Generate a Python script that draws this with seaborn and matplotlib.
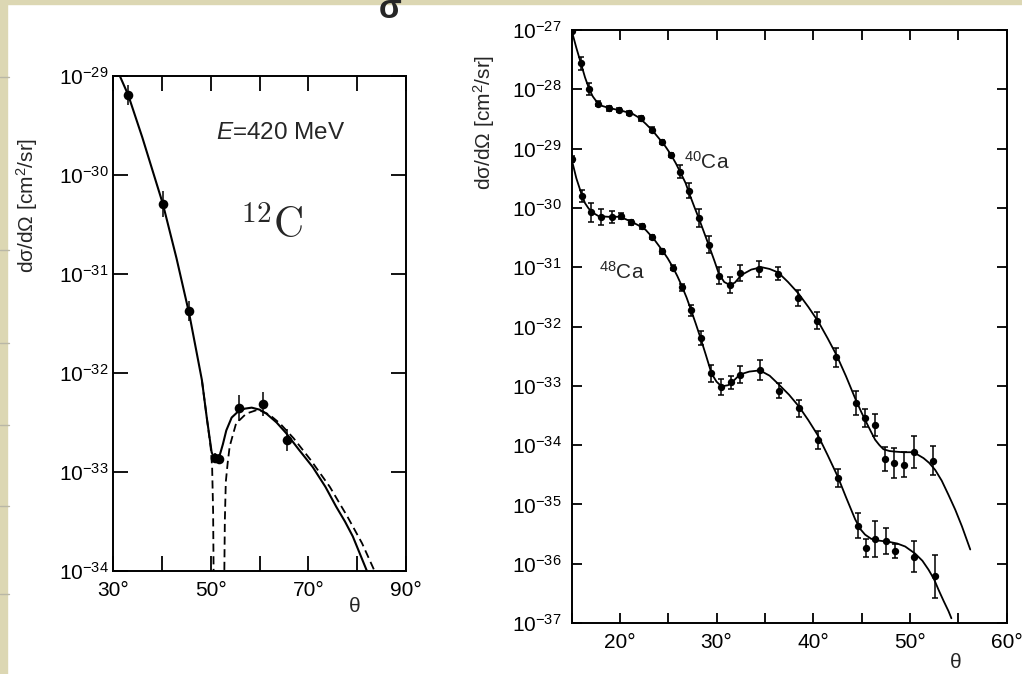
import numpy as np
import pandas as pd
import seaborn as sns
import matplotlib.pyplot as plt
from matplotlib.patches import Rectangle
from matplotlib.lines import Line2D
from matplotlib.ticker import NullLocator

# ---- left panel: 12C, E = 420 MeV ----
c12_theta = [33.1, 40.2, 45.6, 50.9, 51.7, 55.9, 60.8, 65.6]
c12_xs = [6.4e-30, 5.1e-31, 4.2e-32, 1.38e-33, 1.35e-33, 4.4e-33, 4.9e-33, 2.1e-33]
c12_err = [0.10, 0.13, 0.10, 0.05, 0.05, 0.13, 0.12, 0.11]  # half width, decades

# solid fit (log10 of cross section)
c12_fit_theta = [31.4, 33.1, 36.0, 40.2, 43.0, 45.6, 47.0, 48.2, 49.2, 50.2, 50.8,
                 51.2, 51.8, 52.5, 53.2, 54.3, 55.6, 57.0, 58.4, 60.0, 61.4, 63.5,
                 65.5, 68.0, 70.9, 73.5, 75.7, 77.5, 79.1, 82.0]
c12_fit_log = [-29.0, -29.19, -29.62, -30.29, -30.84, -31.40, -31.76, -32.07, -32.45,
               -32.80, -32.87, -32.89, -32.84, -32.72, -32.58, -32.45, -32.39, -32.36,
               -32.35, -32.37, -32.41, -32.50, -32.61, -32.77, -32.95, -33.15, -33.35,
               -33.50, -33.65, -34.0]

# dashed fit, two branches around the diffraction zero
c12_dash_seg = [0] * 7 + [1] * 18
c12_dash_theta = [48.2, 49.2, 50.0, 50.3, 50.5, 50.6, 50.7,
                  52.7, 52.8, 52.9, 53.1, 53.5, 53.9, 55.2, 57.3, 59.7, 62.0, 64.2,
                  67.0, 70.5, 74.4, 78.0, 81.0, 83.2, 84.0]
c12_dash_log = [-32.07, -32.45, -32.75, -32.95, -33.4, -34.0, -34.5,
                -34.5, -34.0, -33.5, -33.1, -32.9, -32.74, -32.51, -32.41, -32.37,
                -32.42, -32.51, -32.66, -32.88, -33.15, -33.45, -33.72, -33.96, -34.05]

# ---- right panel: 40Ca and 48Ca ----
ca40_theta = [15.0, 15.97, 16.84, 17.74, 18.85, 19.9, 20.94, 22.15, 23.3, 24.41, 25.28,
              26.22, 27.12, 28.16, 29.2, 30.3, 31.4, 32.4, 34.4, 36.4, 38.4, 40.4, 42.4,
              44.4, 45.4, 46.4, 47.4, 48.4, 49.4, 50.4, 52.4]
ca40_log = [-27.01, -27.56, -28.0, -28.24, -28.32, -28.35, -28.40, -28.49, -28.68, -28.89,
            -29.11, -29.39, -29.71, -30.17, -30.62, -31.14, -31.30, -31.10, -31.03, -31.11,
            -31.52, -31.90, -32.52, -33.29, -33.54, -33.66, -34.24, -34.30, -34.33, -34.12,
            -34.26]
ca40_err = [0.03, 0.11, 0.10, 0.04, 0.04, 0.04, 0.04, 0.04, 0.04, 0.04, 0.04,
            0.11, 0.13, 0.15, 0.14, 0.14, 0.13, 0.14, 0.13, 0.11, 0.14, 0.14, 0.16,
            0.20, 0.15, 0.18, 0.20, 0.25, 0.21, 0.27, 0.24]

ca48_theta = [15.0, 16.08, 17.05, 18.09, 19.2, 20.07, 21.11, 22.26, 23.37, 24.41, 25.52,
              26.42, 27.36, 28.4, 29.41, 30.45, 31.49, 32.42, 34.49, 36.46, 38.53, 40.54,
              42.54, 44.61, 45.44, 46.41, 47.51, 48.48, 50.48, 52.56]
ca48_log = [-29.17, -29.80, -30.07, -30.15, -30.16, -30.14, -30.24, -30.31, -30.49, -30.73,
            -31.01, -31.34, -31.73, -32.19, -32.79, -33.02, -32.94, -32.81, -32.74, -33.08,
            -33.38, -33.92, -34.56, -35.36, -35.74, -35.58, -35.61, -35.79, -35.88, -36.21]
ca48_err = [0.05, 0.10, 0.16, 0.13, 0.10, 0.05, 0.04, 0.04, 0.04, 0.04, 0.04,
            0.06, 0.10, 0.12, 0.14, 0.14, 0.11, 0.15, 0.17, 0.12, 0.14, 0.15,
            0.15, 0.21, 0.15, 0.30, 0.22, 0.12, 0.26, 0.36]

ca40_fit_theta = [15.0, 15.5, 15.97, 16.4, 16.84, 17.2, 17.47, 17.8, 18.16, 19.0, 19.9,
                  20.6, 21.28, 22.0, 22.67, 23.4, 24.06, 24.7, 25.28, 25.8, 26.32, 26.8,
                  27.19, 27.7, 28.23, 28.75, 29.27, 29.8, 30.24, 30.8, 31.38, 31.9, 32.59,
                  33.6, 34.66, 35.5, 36.39, 37.4, 38.46, 39.5, 40.54, 41.5, 42.44, 43.4,
                  44.34, 45.0, 45.54, 46.0, 46.41, 46.85, 47.27, 47.9, 48.48, 49.3, 50.2,
                  50.8, 51.42, 52.0, 52.63, 53.3, 54.0, 54.7, 55.39, 56.25]
ca40_fit_log = [-27.0, -27.30, -27.56, -27.80, -28.0, -28.12, -28.18, -28.24, -28.28,
                -28.32, -28.35, -28.38, -28.41, -28.48, -28.58, -28.70, -28.83, -28.96,
                -29.10, -29.25, -29.42, -29.58, -29.76, -29.98, -30.20, -30.43, -30.66,
                -30.90, -31.11, -31.25, -31.30, -31.26, -31.13, -31.04, -31.00, -31.03,
                -31.09, -31.25, -31.44, -31.67, -31.92, -32.20, -32.49, -32.84, -33.21,
                -33.45, -33.63, -33.78, -33.91, -34.00, -34.07, -34.10, -34.11, -34.12,
                -34.12, -34.16, -34.22, -34.30, -34.42, -34.60, -34.84, -35.09, -35.37,
                -35.76]

ca48_fit_theta = [15.0, 15.5, 16.08, 16.4, 16.77, 17.2, 17.81, 18.8, 19.9, 20.6, 21.28,
                  22.0, 22.67, 23.5, 24.41, 24.95, 25.45, 25.95, 26.42, 26.9, 27.36, 27.85,
                  28.3, 28.9, 29.48, 30.0, 30.52, 31.2, 31.8, 32.42, 33.4, 34.49, 35.5,
                  36.46, 37.5, 38.53, 39.5, 40.54, 41.5, 42.54, 43.4, 44.34, 44.9, 45.37,
                  46.0, 46.75, 47.79, 48.7, 49.52, 50.55, 51.3, 51.93, 52.5, 52.97, 53.5,
                  54.0, 54.3]
ca48_fit_log = [-29.17, -29.50, -29.79, -29.92, -30.01, -30.08, -30.14, -30.15, -30.15,
                -30.19, -30.24, -30.30, -30.37, -30.52, -30.72, -30.85, -30.99, -31.15,
                -31.32, -31.51, -31.72, -31.95, -32.17, -32.48, -32.79, -32.93, -33.01,
                -32.99, -32.91, -32.81, -32.76, -32.74, -32.83, -32.98, -33.15, -33.35,
                -33.58, -33.85, -34.17, -34.53, -34.88, -35.25, -35.42, -35.51, -35.58,
                -35.61, -35.63, -35.66, -35.71, -35.83, -35.95, -36.10, -36.26, -36.44,
                -36.63, -36.80, -36.92]

left_yticks = [-34, -33, -32, -31, -30, -29]
right_yticks = [-37, -36, -35, -34, -33, -32, -31, -30, -29, -28, -27]
left_xticks = [30, 40, 50, 60, 70, 80, 90]
left_xlabels = ['30°', '', '50°', '', '70°', '', '90°']
right_xticks = [15, 20, 25, 30, 35, 40, 45, 50, 55, 60]
right_xlabels = ['', '20°', '', '30°', '', '40°', '', '50°', '', '60°']
ylabel = 'dσ/dΩ [cm$^2$/sr]'

sns.set_theme(style='ticks')
plt.rcParams['font.family'] = ['Liberation Sans', 'DejaVu Sans']
plt.rcParams['mathtext.fontset'] = 'custom'
plt.rcParams['mathtext.rm'] = 'Liberation Sans'
plt.rcParams['mathtext.it'] = 'Liberation Sans:italic'
plt.rcParams['mathtext.bf'] = 'Liberation Sans:bold'
plt.rcParams['axes.linewidth'] = 1.4


def draw_errors(ax, theta, xs, dex, cap):
    xs = np.asarray(xs)
    d = np.asarray(dex)
    lo = xs - xs * 10.0 ** (-d)
    hi = xs * 10.0 ** d - xs
    ax.errorbar(theta, xs, yerr=[lo, hi], fmt='none', ecolor='black',
                elinewidth=1.1, capsize=cap, capthick=1.1, zorder=2)


def style_axes(ax, xlim, xticks, xlabels, ylim_exp, yticks, ticklen, ypad, xpad):
    ax.set_xlim(*xlim)
    ax.set_ylim(10.0 ** ylim_exp[0], 10.0 ** ylim_exp[1])
    ax.set_xticks(xticks)
    ax.set_xticklabels(xlabels)
    ax.set_yticks([10.0 ** e for e in yticks])
    ax.set_yticklabels([r'$10^{%d}$' % e for e in yticks])
    ax.yaxis.set_minor_locator(NullLocator())
    ax.tick_params(which='major', direction='in', top=True, right=True,
                   length=ticklen, width=1.3, labelsize=15, colors='black')
    ax.tick_params(axis='y', pad=ypad)
    ax.tick_params(axis='x', pad=xpad)
    for s in ax.spines.values():
        s.set_color('black')
    ax.set_xlabel('')
    ax.set_ylabel('')


fig = plt.figure(figsize=(10.22, 6.74), dpi=100)
fig.patch.set_facecolor('white')
beige = '#dcd7b3'
fig.patches.append(Rectangle((0, 1 - 4 / 674), 1, 4 / 674, transform=fig.transFigure,
                             color=beige, zorder=0))
fig.patches.append(Rectangle((0, 0), 7 / 1022, 1, transform=fig.transFigure,
                             color=beige, zorder=0))
# faint ruled marks on the page edge
for yy in [77, 250, 343, 425, 506, 594]:
    fig.lines.append(Line2D([0, 9 / 1022], [1 - yy / 674] * 2, transform=fig.transFigure,
                            color='#b9b7a6', lw=1.0))

# left panel
ax1 = fig.add_axes([113 / 1022, 1 - 571 / 674, 293 / 1022, 495 / 674])
ax1.set_yscale('log')
fit1 = pd.DataFrame({'theta': c12_fit_theta, 'xs': np.power(10.0, c12_fit_log)})
dash1 = pd.DataFrame({'theta': c12_dash_theta, 'xs': np.power(10.0, c12_dash_log),
                      'seg': c12_dash_seg})
sns.lineplot(data=dash1, x='theta', y='xs', units='seg', estimator=None, sort=False,
             color='black', lw=1.3, linestyle=(0, (4.5, 2.5)), ax=ax1)
sns.lineplot(data=fit1, x='theta', y='xs', estimator=None, sort=False,
             color='black', lw=1.5, ax=ax1)
draw_errors(ax1, c12_theta, c12_xs, c12_err, 0)
sns.scatterplot(x=c12_theta, y=c12_xs, color='black', s=48, linewidth=0, zorder=3, ax=ax1)
style_axes(ax1, (30, 90), left_xticks, left_xlabels, (-34, -29), left_yticks, 11, 3, 7)
ax1.text(51.0, 10.0 ** -29.58, r'$E$=420 MeV', fontsize=17.5, va='center', ha='left')
ax1.text(62.4, 10.0 ** -30.53, r'$^{12}\mathrm{C}$', math_fontfamily='cm',
         fontsize=30, va='center', ha='center')
fig.text(27 / 1022, 1 - 205 / 674, ylabel, rotation=90, fontsize=15,
         ha='center', va='center')
fig.text(355 / 1022, 1 - 607 / 674, 'θ', fontsize=15, ha='center', va='center')

# right panel
ax2 = fig.add_axes([571.5 / 1022, 1 - 623 / 674, 435 / 1022, 593 / 674])
ax2.set_yscale('log')
for th, lg in [(ca40_fit_theta, ca40_fit_log), (ca48_fit_theta, ca48_fit_log)]:
    sns.lineplot(x=th, y=np.power(10.0, lg), estimator=None, sort=False,
                 color='black', lw=1.3, ax=ax2)
for th, lg, er in [(ca40_theta, ca40_log, ca40_err), (ca48_theta, ca48_log, ca48_err)]:
    xs = np.power(10.0, lg)
    draw_errors(ax2, th, xs, er, 2.5)
    sns.scatterplot(x=th, y=xs, color='black', s=28, linewidth=0, zorder=3, ax=ax2)
style_axes(ax2, (15, 60), right_xticks, right_xlabels, (-37, -27), right_yticks, 7.5, 7, 7)
ax2.text(26.6, 10.0 ** -29.34, r'$^{40}$Ca', fontsize=15, va='baseline', ha='left')
ax2.text(17.8, 10.0 ** -31.19, r'$^{48}$Ca', fontsize=15, va='baseline', ha='left')
fig.text(484 / 1022, 1 - 122 / 674, ylabel, rotation=90, fontsize=15,
         ha='center', va='center')
fig.text(956 / 1022, 1 - 663 / 674, 'θ', fontsize=15, ha='center', va='center')

# cut-off glyph at the top edge of the scan
fig.text(390 / 1022, 1 - 9 / 674, 'σ', fontsize=24, fontweight='bold',
         ha='center', va='center')

fig.savefig('out.png', dpi=100, facecolor=fig.get_facecolor())
